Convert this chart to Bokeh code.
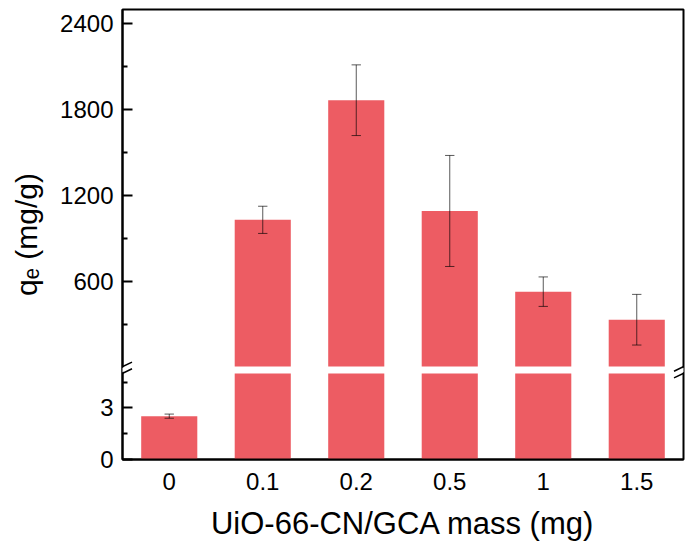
import math
from bokeh.plotting import figure
from bokeh.models import FixedTicker, Range1d, FactorRange, Arrow
from bokeh.embed import file_html
from bokeh.resources import INLINE

# ---- data ----
masses = ["0", "0.1", "0.2", "0.5", "1", "1.5"]
qe = [2.52, 1030, 1866, 1092, 528, 332]
qe_err = [0.12, 95, 247, 388, 103, 177]

lower_ticks = [0, 3]
lower_minor = [1.5, 4.5]
upper_ticks = [600, 1200, 1800, 2400]
upper_minor = [300, 900, 1500, 2100]
lower_max = 5.0
upper_min = 5.0
upper_max = 2500.0

# ---- broken-axis mapping (plot units) ----
LOW_H, GAP, UP_H = 86.0, 7.0, 357.0
UP0 = LOW_H + GAP

def f(v):
    if v <= lower_max:
        return v / lower_max * LOW_H
    return UP0 + (v - upper_min) / (upper_max - upper_min) * UP_H

FONT = "Liberation Sans"
BAR = "#ED5C63"

W, H = 689, 552
ML, MR, MT, MB = 122, 6, 9, 93
n = len(masses)
px_per_x = (W - ML - MR) / n

p = figure(width=W, height=H, x_range=FactorRange(*masses, range_padding=0),
           y_range=Range1d(0, LOW_H + GAP + UP_H),
           output_backend="svg", toolbar_location=None,
           min_border_left=ML, min_border_right=MR, min_border_top=MT, min_border_bottom=MB)
p.xgrid.visible = False
p.ygrid.visible = False
p.outline_line_color = "black"
p.outline_line_width = 2
p.background_fill_color = "white"
p.border_fill_color = "white"

xs = [i + 0.5 for i in range(n)]
low_top = [f(min(v, lower_max)) for v in qe]
p.vbar(x=xs, top=low_top, bottom=0, width=0.6, fill_color=BAR, line_color=None)
up_x = [x for x, v in zip(xs, qe) if v > lower_max]
up_top = [f(v) for v in qe if v > lower_max]
p.vbar(x=up_x, top=up_top, bottom=UP0, width=0.6, fill_color=BAR, line_color=None)

# error bars
lo = [f(v - e) for v, e in zip(qe, qe_err)]
hi = [f(v + e) for v, e in zip(qe, qe_err)]
cap = 0.05
ek = dict(line_color="black", line_alpha=0.65, line_width=1)
p.segment(x0=xs, y0=lo, x1=xs, y1=hi, **ek)
p.segment(x0=[x - cap for x in xs], y0=lo, x1=[x + cap for x in xs], y1=lo, **ek)
p.segment(x0=[x - cap for x in xs], y0=hi, x1=[x + cap for x in xs], y1=hi, **ek)

# y axis
major = [round(f(v)) for v in lower_ticks + upper_ticks]
minor = [round(f(v)) for v in lower_minor + upper_minor]
yax = p.yaxis[0]
yax.ticker = FixedTicker(ticks=major, minor_ticks=minor)
yax.major_label_overrides = {t: str(v) for t, v in zip(major, lower_ticks + upper_ticks)}
yax.major_tick_in = 10
yax.major_tick_out = 0
yax.minor_tick_in = 5
yax.minor_tick_out = 0
yax.major_tick_line_width = 2
yax.minor_tick_line_width = 2
yax.axis_line_width = 2
yax.major_label_text_font = FONT
yax.major_label_text_font_size = "24px"
yax.major_label_text_color = "black"
yax.major_label_standoff = 9
yax.axis_label = "q\u2091 (mg/g)"
yax.axis_label_text_font = FONT
yax.axis_label_text_font_size = "30px"
yax.axis_label_text_font_style = "normal"
yax.axis_label_text_color = "black"
yax.axis_label_standoff = 14

# x axis
xax = p.xaxis[0]
xax.major_tick_line_color = None
xax.minor_tick_line_color = None
xax.axis_line_width = 2
xax.major_label_text_font = FONT
xax.major_label_text_font_size = "24px"
xax.major_label_text_color = "black"
xax.major_label_standoff = 7
xax.axis_label = "UiO-66-CN/GCA mass (mg)"
xax.axis_label_text_font = FONT
xax.axis_label_text_font_size = "31px"
xax.axis_label_text_font_style = "normal"
xax.axis_label_text_color = "black"
xax.axis_label_standoff = 13

def cx(px):
    return (px - ML) / px_per_x

# break marks
def brk(x_edge_px):
    xl = cx(x_edge_px - 9.5)
    xr = cx(x_edge_px + 9.5)
    gap_mid = LOW_H + GAP / 2
    p.add_layout(Arrow(end=None, x_start=xr, y_start=gap_mid + 4.6, x_end=xl, y_end=gap_mid - 4.6,
                       line_color="white", line_width=4))
    for off in (3.3, -3.3):
        p.add_layout(Arrow(end=None, x_start=xr, y_start=gap_mid + off + 4.6, x_end=xl,
                           y_end=gap_mid + off - 4.6, line_color="black", line_width=1.5))

brk(ML)
brk(W - MR)

open("out.html", "w").write(file_html(p, INLINE))
